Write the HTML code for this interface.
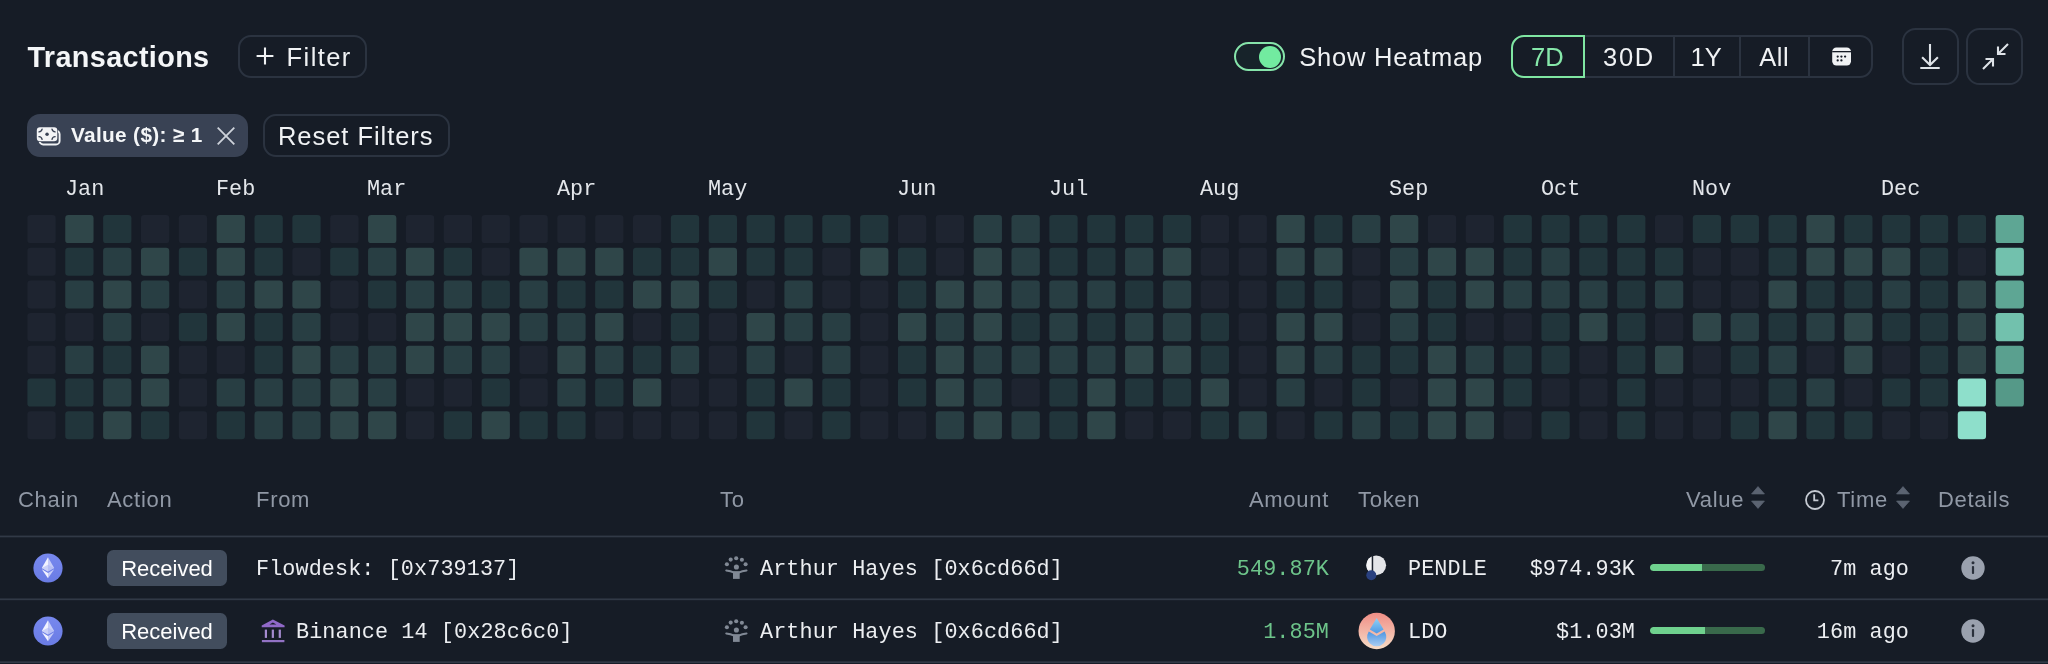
<!DOCTYPE html>
<html><head><meta charset="utf-8">
<style>
*{box-sizing:border-box;margin:0;padding:0}
html,body{width:2048px;height:664px;overflow:hidden;background:#161c26}
body{font-family:"Liberation Sans",sans-serif;color:#fff;position:relative}
.abs{position:absolute;white-space:nowrap}
.mono{font-family:"Liberation Mono",monospace}
.btn{position:absolute;border:2px solid #2b3340;border-radius:13px}
.title{left:27.500px;top:38.200px;font-size:28.800px;font-weight:bold;line-height:38px;color:#f4f6f8;letter-spacing:0.36px}
.hm{position:absolute;left:0;top:205px}
.mon{position:absolute;top:178px;font-size:21.8px;line-height:24px;color:#e3e6ea;font-family:"Liberation Mono",monospace}
.th{position:absolute;top:487.300px;font-size:22px;line-height:26px;color:#9098a5;letter-spacing:0.7px}
.line{position:absolute;left:0;width:2048px;height:1.700px;background:#303845}
.badge{position:absolute;left:107px;width:120px;height:35.600px;border-radius:6.500px;background:#424d5d;color:#fff;font-size:22px;line-height:35.600px;text-align:center}
.cell{position:absolute;font-family:"Liberation Mono",monospace;font-size:21.8px;letter-spacing:0.09px;line-height:28px;color:#eceef1;white-space:nowrap}
.r{text-align:right}
.bar{position:absolute;left:1650px;width:115px;height:7px;border-radius:4px;background:#39694b;overflow:hidden}
.bar i{display:block;height:7px;background:#6fd18e;border-radius:4px 0 0 4px}
#wrap{position:absolute;left:0;top:0;width:2048px;height:664px;will-change:transform;transform:translateZ(0)}
</style></head><body><div id="wrap">

<div class="abs title">Transactions</div>

<div class="btn" style="left:238px;top:35.200px;width:129.200px;height:42.400px"></div>
<svg class="abs" style="left:254.800px;top:46px" width="20" height="20" viewBox="0 0 20 20"><path d="M10 1.600v16.800M1.600 10h16.800" stroke="#f0f2f4" stroke-width="2.100" fill="none"/></svg>
<div class="abs" style="left:286.600px;top:41.800px;font-size:25.5px;line-height:30px;color:#f0f2f4;letter-spacing:1.4px">Filter</div>

<!-- chip -->
<div class="abs" style="left:27px;top:113.800px;width:221px;height:43.400px;border-radius:13px;background:#394254"></div>
<svg class="abs" style="left:36px;top:126px" width="26" height="21" viewBox="0 0 26 21"><rect x="3.600" y="4.700" width="20" height="13.800" rx="3.600" fill="none" stroke="#f0f2f4" stroke-width="1.900"/><rect x="0.200" y="0.700" width="21.700" height="15.200" rx="3.800" fill="#394254"/><rect x="0.800" y="1.300" width="20.500" height="14" rx="3.200" fill="#f3f4f6"/><circle cx="11.050" cy="8.300" r="1.750" fill="#394254"/><g fill="none" stroke="#394254" stroke-width="1.350" stroke-linecap="round"><path d="M3 5.900a3.400 3.400 0 0 0 3.100-2.700"/><path d="M19.100 5.900a3.400 3.400 0 0 1-3.100-2.700"/><path d="M3 10.700a3.400 3.400 0 0 1 3.100 2.700"/><path d="M19.100 10.700a3.400 3.400 0 0 0-3.100 2.700"/></g></svg>
<div class="abs" style="left:70.900px;top:122.200px;font-size:20.8px;font-weight:bold;line-height:26px;letter-spacing:0.35px;color:#f4f6f8">Value ($): ≥ 1</div>
<svg class="abs" style="left:216.300px;top:125.800px" width="20" height="20" viewBox="0 0 20 20"><path d="M1.700 1.700l16.600 16.600M18.300 1.700L1.700 18.300" stroke="#cdd2da" stroke-width="1.800" fill="none"/></svg>

<div class="btn" style="left:263px;top:114px;width:187px;height:43px"></div>
<div class="abs" style="left:278px;top:120.800px;font-size:25.5px;line-height:30px;color:#f0f2f4;letter-spacing:0.95px">Reset Filters</div>

<!-- toggle -->
<div class="abs" style="left:1234.300px;top:42.300px;width:50.700px;height:28.700px;border-radius:15px;border:2px solid #86e4aa;background:#17232a"></div>
<div class="abs" style="left:1259.300px;top:45.800px;width:21.800px;height:21.800px;border-radius:11px;background:#72eba0"></div>
<div class="abs" style="left:1299.200px;top:41.700px;font-size:25.5px;line-height:30px;color:#f0f2f4;letter-spacing:0.78px">Show Heatmap</div>

<!-- segmented -->
<div class="btn" style="left:1511px;top:35.200px;width:361.500px;height:42.400px"></div>
<div class="abs" style="left:1673px;top:36px;width:2px;height:41px;background:#2b3340"></div>
<div class="abs" style="left:1739px;top:36px;width:2px;height:41px;background:#2b3340"></div>
<div class="abs" style="left:1808px;top:36px;width:2px;height:41px;background:#2b3340"></div>
<div class="abs" style="left:1511px;top:35.200px;width:74px;height:42.400px;border:2px solid #7fe6a2;border-radius:13px 0 0 13px"></div>
<div class="abs" style="left:1531px;top:41.600px;font-size:25.5px;line-height:30px;color:#86e8aa">7D</div>
<div class="abs" style="left:1603px;top:41.600px;font-size:25.5px;line-height:30px;color:#f0f2f4;letter-spacing:1.700px">30D</div>
<div class="abs" style="left:1690.600px;top:41.600px;font-size:25.5px;line-height:30px;color:#f0f2f4">1Y</div>
<div class="abs" style="left:1759.300px;top:41.600px;font-size:25.5px;line-height:30px;color:#f0f2f4;letter-spacing:0.5px">All</div>
<svg class="abs" style="left:1831px;top:46px" width="22" height="22" viewBox="0 0 22 22"><rect x="1.200" y="1.500" width="18.800" height="18" rx="4.200" fill="#f0f2f4"/><rect x="1.200" y="5" width="18.800" height="1.300" fill="#161c26"/><g fill="#161c26"><circle cx="6.700" cy="10.600" r="1.150"/><circle cx="10.400" cy="10.600" r="1.150"/><circle cx="14.100" cy="10.600" r="1.150"/><circle cx="6.700" cy="14.400" r="1.150"/><circle cx="10.400" cy="14.400" r="1.150"/></g></svg>

<div class="btn" style="left:1901.700px;top:28.300px;width:57px;height:57px;border-radius:13.500px"></div>
<svg class="abs" style="left:1917.400px;top:43px" width="26" height="30" viewBox="0 0 26 30"><path d="M13 1v21M5.100 14.300L13 22.100l7.900-7.800M3.300 25h19.400" stroke="#dfe3e8" stroke-width="2.1" fill="none"/></svg>
<div class="btn" style="left:1966.300px;top:28.300px;width:57px;height:57px;border-radius:13.500px"></div>
<svg class="abs" style="left:1980.500px;top:42.300px" width="30" height="30" viewBox="0 0 30 30"><path d="M27 2L17 12M17 4.500V12h7.500M2 27l10-10M12 24.500V17H4.500" stroke="#dfe3e8" stroke-width="2.1" fill="none"/></svg>

<!-- months -->
<div class="mon" style="left:65px">Jan</div>
<div class="mon" style="left:216px">Feb</div>
<div class="mon" style="left:367px">Mar</div>
<div class="mon" style="left:557px">Apr</div>
<div class="mon" style="left:708px">May</div>
<div class="mon" style="left:897px">Jun</div>
<div class="mon" style="left:1049px">Jul</div>
<div class="mon" style="left:1200px">Aug</div>
<div class="mon" style="left:1389px">Sep</div>
<div class="mon" style="left:1541px">Oct</div>
<div class="mon" style="left:1692px">Nov</div>
<div class="mon" style="left:1881px">Dec</div>

<svg class="hm" width="2048" height="240" viewBox="0 205 2048 240"><rect x="27.40" y="215.00" width="28.3" height="28.1" rx="3.2" fill="#1e2430"/><rect x="27.40" y="247.70" width="28.3" height="28.1" rx="3.2" fill="#1e2430"/><rect x="27.40" y="280.40" width="28.3" height="28.1" rx="3.2" fill="#1e2430"/><rect x="27.40" y="313.10" width="28.3" height="28.1" rx="3.2" fill="#1e2430"/><rect x="27.40" y="345.80" width="28.3" height="28.1" rx="3.2" fill="#1e2430"/><rect x="27.40" y="378.50" width="28.3" height="28.1" rx="3.2" fill="#21353b"/><rect x="27.40" y="411.20" width="28.3" height="28.1" rx="3.2" fill="#1e2430"/><rect x="65.25" y="215.00" width="28.3" height="28.1" rx="3.2" fill="#2f4649"/><rect x="65.25" y="247.70" width="28.3" height="28.1" rx="3.2" fill="#21353b"/><rect x="65.25" y="280.40" width="28.3" height="28.1" rx="3.2" fill="#283e43"/><rect x="65.25" y="313.10" width="28.3" height="28.1" rx="3.2" fill="#1e2430"/><rect x="65.25" y="345.80" width="28.3" height="28.1" rx="3.2" fill="#283e43"/><rect x="65.25" y="378.50" width="28.3" height="28.1" rx="3.2" fill="#21353b"/><rect x="65.25" y="411.20" width="28.3" height="28.1" rx="3.2" fill="#21353b"/><rect x="103.10" y="215.00" width="28.3" height="28.1" rx="3.2" fill="#21353b"/><rect x="103.10" y="247.70" width="28.3" height="28.1" rx="3.2" fill="#283e43"/><rect x="103.10" y="280.40" width="28.3" height="28.1" rx="3.2" fill="#2f4649"/><rect x="103.10" y="313.10" width="28.3" height="28.1" rx="3.2" fill="#283e43"/><rect x="103.10" y="345.80" width="28.3" height="28.1" rx="3.2" fill="#21353b"/><rect x="103.10" y="378.50" width="28.3" height="28.1" rx="3.2" fill="#283e43"/><rect x="103.10" y="411.20" width="28.3" height="28.1" rx="3.2" fill="#2f4649"/><rect x="140.95" y="215.00" width="28.3" height="28.1" rx="3.2" fill="#1e2430"/><rect x="140.95" y="247.70" width="28.3" height="28.1" rx="3.2" fill="#2f4649"/><rect x="140.95" y="280.40" width="28.3" height="28.1" rx="3.2" fill="#283e43"/><rect x="140.95" y="313.10" width="28.3" height="28.1" rx="3.2" fill="#1e2430"/><rect x="140.95" y="345.80" width="28.3" height="28.1" rx="3.2" fill="#2f4649"/><rect x="140.95" y="378.50" width="28.3" height="28.1" rx="3.2" fill="#2f4649"/><rect x="140.95" y="411.20" width="28.3" height="28.1" rx="3.2" fill="#21353b"/><rect x="178.80" y="215.00" width="28.3" height="28.1" rx="3.2" fill="#1e2430"/><rect x="178.80" y="247.70" width="28.3" height="28.1" rx="3.2" fill="#21353b"/><rect x="178.80" y="280.40" width="28.3" height="28.1" rx="3.2" fill="#1e2430"/><rect x="178.80" y="313.10" width="28.3" height="28.1" rx="3.2" fill="#21353b"/><rect x="178.80" y="345.80" width="28.3" height="28.1" rx="3.2" fill="#1e2430"/><rect x="178.80" y="378.50" width="28.3" height="28.1" rx="3.2" fill="#1e2430"/><rect x="178.80" y="411.20" width="28.3" height="28.1" rx="3.2" fill="#1e2430"/><rect x="216.65" y="215.00" width="28.3" height="28.1" rx="3.2" fill="#2f4649"/><rect x="216.65" y="247.70" width="28.3" height="28.1" rx="3.2" fill="#2f4649"/><rect x="216.65" y="280.40" width="28.3" height="28.1" rx="3.2" fill="#283e43"/><rect x="216.65" y="313.10" width="28.3" height="28.1" rx="3.2" fill="#2f4649"/><rect x="216.65" y="345.80" width="28.3" height="28.1" rx="3.2" fill="#1e2430"/><rect x="216.65" y="378.50" width="28.3" height="28.1" rx="3.2" fill="#283e43"/><rect x="216.65" y="411.20" width="28.3" height="28.1" rx="3.2" fill="#21353b"/><rect x="254.50" y="215.00" width="28.3" height="28.1" rx="3.2" fill="#21353b"/><rect x="254.50" y="247.70" width="28.3" height="28.1" rx="3.2" fill="#21353b"/><rect x="254.50" y="280.40" width="28.3" height="28.1" rx="3.2" fill="#2f4649"/><rect x="254.50" y="313.10" width="28.3" height="28.1" rx="3.2" fill="#21353b"/><rect x="254.50" y="345.80" width="28.3" height="28.1" rx="3.2" fill="#21353b"/><rect x="254.50" y="378.50" width="28.3" height="28.1" rx="3.2" fill="#283e43"/><rect x="254.50" y="411.20" width="28.3" height="28.1" rx="3.2" fill="#283e43"/><rect x="292.35" y="215.00" width="28.3" height="28.1" rx="3.2" fill="#21353b"/><rect x="292.35" y="247.70" width="28.3" height="28.1" rx="3.2" fill="#1e2430"/><rect x="292.35" y="280.40" width="28.3" height="28.1" rx="3.2" fill="#2f4649"/><rect x="292.35" y="313.10" width="28.3" height="28.1" rx="3.2" fill="#283e43"/><rect x="292.35" y="345.80" width="28.3" height="28.1" rx="3.2" fill="#2f4649"/><rect x="292.35" y="378.50" width="28.3" height="28.1" rx="3.2" fill="#283e43"/><rect x="292.35" y="411.20" width="28.3" height="28.1" rx="3.2" fill="#283e43"/><rect x="330.20" y="215.00" width="28.3" height="28.1" rx="3.2" fill="#1e2430"/><rect x="330.20" y="247.70" width="28.3" height="28.1" rx="3.2" fill="#21353b"/><rect x="330.20" y="280.40" width="28.3" height="28.1" rx="3.2" fill="#1e2430"/><rect x="330.20" y="313.10" width="28.3" height="28.1" rx="3.2" fill="#1e2430"/><rect x="330.20" y="345.80" width="28.3" height="28.1" rx="3.2" fill="#283e43"/><rect x="330.20" y="378.50" width="28.3" height="28.1" rx="3.2" fill="#2f4649"/><rect x="330.20" y="411.20" width="28.3" height="28.1" rx="3.2" fill="#2f4649"/><rect x="368.05" y="215.00" width="28.3" height="28.1" rx="3.2" fill="#2f4649"/><rect x="368.05" y="247.70" width="28.3" height="28.1" rx="3.2" fill="#283e43"/><rect x="368.05" y="280.40" width="28.3" height="28.1" rx="3.2" fill="#21353b"/><rect x="368.05" y="313.10" width="28.3" height="28.1" rx="3.2" fill="#1e2430"/><rect x="368.05" y="345.80" width="28.3" height="28.1" rx="3.2" fill="#283e43"/><rect x="368.05" y="378.50" width="28.3" height="28.1" rx="3.2" fill="#283e43"/><rect x="368.05" y="411.20" width="28.3" height="28.1" rx="3.2" fill="#2f4649"/><rect x="405.90" y="215.00" width="28.3" height="28.1" rx="3.2" fill="#1e2430"/><rect x="405.90" y="247.70" width="28.3" height="28.1" rx="3.2" fill="#2f4649"/><rect x="405.90" y="280.40" width="28.3" height="28.1" rx="3.2" fill="#283e43"/><rect x="405.90" y="313.10" width="28.3" height="28.1" rx="3.2" fill="#2f4649"/><rect x="405.90" y="345.80" width="28.3" height="28.1" rx="3.2" fill="#2f4649"/><rect x="405.90" y="378.50" width="28.3" height="28.1" rx="3.2" fill="#1e2430"/><rect x="405.90" y="411.20" width="28.3" height="28.1" rx="3.2" fill="#1e2430"/><rect x="443.75" y="215.00" width="28.3" height="28.1" rx="3.2" fill="#1e2430"/><rect x="443.75" y="247.70" width="28.3" height="28.1" rx="3.2" fill="#21353b"/><rect x="443.75" y="280.40" width="28.3" height="28.1" rx="3.2" fill="#283e43"/><rect x="443.75" y="313.10" width="28.3" height="28.1" rx="3.2" fill="#2f4649"/><rect x="443.75" y="345.80" width="28.3" height="28.1" rx="3.2" fill="#283e43"/><rect x="443.75" y="378.50" width="28.3" height="28.1" rx="3.2" fill="#1e2430"/><rect x="443.75" y="411.20" width="28.3" height="28.1" rx="3.2" fill="#21353b"/><rect x="481.60" y="215.00" width="28.3" height="28.1" rx="3.2" fill="#1e2430"/><rect x="481.60" y="247.70" width="28.3" height="28.1" rx="3.2" fill="#1e2430"/><rect x="481.60" y="280.40" width="28.3" height="28.1" rx="3.2" fill="#21353b"/><rect x="481.60" y="313.10" width="28.3" height="28.1" rx="3.2" fill="#2f4649"/><rect x="481.60" y="345.80" width="28.3" height="28.1" rx="3.2" fill="#283e43"/><rect x="481.60" y="378.50" width="28.3" height="28.1" rx="3.2" fill="#21353b"/><rect x="481.60" y="411.20" width="28.3" height="28.1" rx="3.2" fill="#2f4649"/><rect x="519.45" y="215.00" width="28.3" height="28.1" rx="3.2" fill="#1e2430"/><rect x="519.45" y="247.70" width="28.3" height="28.1" rx="3.2" fill="#2f4649"/><rect x="519.45" y="280.40" width="28.3" height="28.1" rx="3.2" fill="#283e43"/><rect x="519.45" y="313.10" width="28.3" height="28.1" rx="3.2" fill="#283e43"/><rect x="519.45" y="345.80" width="28.3" height="28.1" rx="3.2" fill="#1e2430"/><rect x="519.45" y="378.50" width="28.3" height="28.1" rx="3.2" fill="#1e2430"/><rect x="519.45" y="411.20" width="28.3" height="28.1" rx="3.2" fill="#21353b"/><rect x="557.30" y="215.00" width="28.3" height="28.1" rx="3.2" fill="#1e2430"/><rect x="557.30" y="247.70" width="28.3" height="28.1" rx="3.2" fill="#2f4649"/><rect x="557.30" y="280.40" width="28.3" height="28.1" rx="3.2" fill="#21353b"/><rect x="557.30" y="313.10" width="28.3" height="28.1" rx="3.2" fill="#283e43"/><rect x="557.30" y="345.80" width="28.3" height="28.1" rx="3.2" fill="#2f4649"/><rect x="557.30" y="378.50" width="28.3" height="28.1" rx="3.2" fill="#283e43"/><rect x="557.30" y="411.20" width="28.3" height="28.1" rx="3.2" fill="#21353b"/><rect x="595.15" y="215.00" width="28.3" height="28.1" rx="3.2" fill="#1e2430"/><rect x="595.15" y="247.70" width="28.3" height="28.1" rx="3.2" fill="#2f4649"/><rect x="595.15" y="280.40" width="28.3" height="28.1" rx="3.2" fill="#21353b"/><rect x="595.15" y="313.10" width="28.3" height="28.1" rx="3.2" fill="#2f4649"/><rect x="595.15" y="345.80" width="28.3" height="28.1" rx="3.2" fill="#283e43"/><rect x="595.15" y="378.50" width="28.3" height="28.1" rx="3.2" fill="#21353b"/><rect x="595.15" y="411.20" width="28.3" height="28.1" rx="3.2" fill="#1e2430"/><rect x="633.00" y="215.00" width="28.3" height="28.1" rx="3.2" fill="#1e2430"/><rect x="633.00" y="247.70" width="28.3" height="28.1" rx="3.2" fill="#21353b"/><rect x="633.00" y="280.40" width="28.3" height="28.1" rx="3.2" fill="#2f4649"/><rect x="633.00" y="313.10" width="28.3" height="28.1" rx="3.2" fill="#1e2430"/><rect x="633.00" y="345.80" width="28.3" height="28.1" rx="3.2" fill="#21353b"/><rect x="633.00" y="378.50" width="28.3" height="28.1" rx="3.2" fill="#2f4649"/><rect x="633.00" y="411.20" width="28.3" height="28.1" rx="3.2" fill="#1e2430"/><rect x="670.85" y="215.00" width="28.3" height="28.1" rx="3.2" fill="#21353b"/><rect x="670.85" y="247.70" width="28.3" height="28.1" rx="3.2" fill="#21353b"/><rect x="670.85" y="280.40" width="28.3" height="28.1" rx="3.2" fill="#2f4649"/><rect x="670.85" y="313.10" width="28.3" height="28.1" rx="3.2" fill="#21353b"/><rect x="670.85" y="345.80" width="28.3" height="28.1" rx="3.2" fill="#283e43"/><rect x="670.85" y="378.50" width="28.3" height="28.1" rx="3.2" fill="#1e2430"/><rect x="670.85" y="411.20" width="28.3" height="28.1" rx="3.2" fill="#1e2430"/><rect x="708.70" y="215.00" width="28.3" height="28.1" rx="3.2" fill="#21353b"/><rect x="708.70" y="247.70" width="28.3" height="28.1" rx="3.2" fill="#2f4649"/><rect x="708.70" y="280.40" width="28.3" height="28.1" rx="3.2" fill="#21353b"/><rect x="708.70" y="313.10" width="28.3" height="28.1" rx="3.2" fill="#1e2430"/><rect x="708.70" y="345.80" width="28.3" height="28.1" rx="3.2" fill="#1e2430"/><rect x="708.70" y="378.50" width="28.3" height="28.1" rx="3.2" fill="#1e2430"/><rect x="708.70" y="411.20" width="28.3" height="28.1" rx="3.2" fill="#1e2430"/><rect x="746.55" y="215.00" width="28.3" height="28.1" rx="3.2" fill="#21353b"/><rect x="746.55" y="247.70" width="28.3" height="28.1" rx="3.2" fill="#21353b"/><rect x="746.55" y="280.40" width="28.3" height="28.1" rx="3.2" fill="#1e2430"/><rect x="746.55" y="313.10" width="28.3" height="28.1" rx="3.2" fill="#2f4649"/><rect x="746.55" y="345.80" width="28.3" height="28.1" rx="3.2" fill="#283e43"/><rect x="746.55" y="378.50" width="28.3" height="28.1" rx="3.2" fill="#21353b"/><rect x="746.55" y="411.20" width="28.3" height="28.1" rx="3.2" fill="#21353b"/><rect x="784.40" y="215.00" width="28.3" height="28.1" rx="3.2" fill="#21353b"/><rect x="784.40" y="247.70" width="28.3" height="28.1" rx="3.2" fill="#21353b"/><rect x="784.40" y="280.40" width="28.3" height="28.1" rx="3.2" fill="#283e43"/><rect x="784.40" y="313.10" width="28.3" height="28.1" rx="3.2" fill="#283e43"/><rect x="784.40" y="345.80" width="28.3" height="28.1" rx="3.2" fill="#1e2430"/><rect x="784.40" y="378.50" width="28.3" height="28.1" rx="3.2" fill="#2f4649"/><rect x="784.40" y="411.20" width="28.3" height="28.1" rx="3.2" fill="#1e2430"/><rect x="822.25" y="215.00" width="28.3" height="28.1" rx="3.2" fill="#21353b"/><rect x="822.25" y="247.70" width="28.3" height="28.1" rx="3.2" fill="#1e2430"/><rect x="822.25" y="280.40" width="28.3" height="28.1" rx="3.2" fill="#1e2430"/><rect x="822.25" y="313.10" width="28.3" height="28.1" rx="3.2" fill="#283e43"/><rect x="822.25" y="345.80" width="28.3" height="28.1" rx="3.2" fill="#283e43"/><rect x="822.25" y="378.50" width="28.3" height="28.1" rx="3.2" fill="#21353b"/><rect x="822.25" y="411.20" width="28.3" height="28.1" rx="3.2" fill="#21353b"/><rect x="860.10" y="215.00" width="28.3" height="28.1" rx="3.2" fill="#21353b"/><rect x="860.10" y="247.70" width="28.3" height="28.1" rx="3.2" fill="#2f4649"/><rect x="860.10" y="280.40" width="28.3" height="28.1" rx="3.2" fill="#1e2430"/><rect x="860.10" y="313.10" width="28.3" height="28.1" rx="3.2" fill="#1e2430"/><rect x="860.10" y="345.80" width="28.3" height="28.1" rx="3.2" fill="#1e2430"/><rect x="860.10" y="378.50" width="28.3" height="28.1" rx="3.2" fill="#1e2430"/><rect x="860.10" y="411.20" width="28.3" height="28.1" rx="3.2" fill="#1e2430"/><rect x="897.95" y="215.00" width="28.3" height="28.1" rx="3.2" fill="#1e2430"/><rect x="897.95" y="247.70" width="28.3" height="28.1" rx="3.2" fill="#21353b"/><rect x="897.95" y="280.40" width="28.3" height="28.1" rx="3.2" fill="#21353b"/><rect x="897.95" y="313.10" width="28.3" height="28.1" rx="3.2" fill="#2f4649"/><rect x="897.95" y="345.80" width="28.3" height="28.1" rx="3.2" fill="#21353b"/><rect x="897.95" y="378.50" width="28.3" height="28.1" rx="3.2" fill="#21353b"/><rect x="897.95" y="411.20" width="28.3" height="28.1" rx="3.2" fill="#1e2430"/><rect x="935.80" y="215.00" width="28.3" height="28.1" rx="3.2" fill="#1e2430"/><rect x="935.80" y="247.70" width="28.3" height="28.1" rx="3.2" fill="#1e2430"/><rect x="935.80" y="280.40" width="28.3" height="28.1" rx="3.2" fill="#2f4649"/><rect x="935.80" y="313.10" width="28.3" height="28.1" rx="3.2" fill="#283e43"/><rect x="935.80" y="345.80" width="28.3" height="28.1" rx="3.2" fill="#2f4649"/><rect x="935.80" y="378.50" width="28.3" height="28.1" rx="3.2" fill="#2f4649"/><rect x="935.80" y="411.20" width="28.3" height="28.1" rx="3.2" fill="#283e43"/><rect x="973.65" y="215.00" width="28.3" height="28.1" rx="3.2" fill="#283e43"/><rect x="973.65" y="247.70" width="28.3" height="28.1" rx="3.2" fill="#2f4649"/><rect x="973.65" y="280.40" width="28.3" height="28.1" rx="3.2" fill="#2f4649"/><rect x="973.65" y="313.10" width="28.3" height="28.1" rx="3.2" fill="#2f4649"/><rect x="973.65" y="345.80" width="28.3" height="28.1" rx="3.2" fill="#283e43"/><rect x="973.65" y="378.50" width="28.3" height="28.1" rx="3.2" fill="#283e43"/><rect x="973.65" y="411.20" width="28.3" height="28.1" rx="3.2" fill="#2f4649"/><rect x="1011.50" y="215.00" width="28.3" height="28.1" rx="3.2" fill="#283e43"/><rect x="1011.50" y="247.70" width="28.3" height="28.1" rx="3.2" fill="#283e43"/><rect x="1011.50" y="280.40" width="28.3" height="28.1" rx="3.2" fill="#283e43"/><rect x="1011.50" y="313.10" width="28.3" height="28.1" rx="3.2" fill="#21353b"/><rect x="1011.50" y="345.80" width="28.3" height="28.1" rx="3.2" fill="#283e43"/><rect x="1011.50" y="378.50" width="28.3" height="28.1" rx="3.2" fill="#1e2430"/><rect x="1011.50" y="411.20" width="28.3" height="28.1" rx="3.2" fill="#283e43"/><rect x="1049.35" y="215.00" width="28.3" height="28.1" rx="3.2" fill="#21353b"/><rect x="1049.35" y="247.70" width="28.3" height="28.1" rx="3.2" fill="#21353b"/><rect x="1049.35" y="280.40" width="28.3" height="28.1" rx="3.2" fill="#283e43"/><rect x="1049.35" y="313.10" width="28.3" height="28.1" rx="3.2" fill="#283e43"/><rect x="1049.35" y="345.80" width="28.3" height="28.1" rx="3.2" fill="#283e43"/><rect x="1049.35" y="378.50" width="28.3" height="28.1" rx="3.2" fill="#21353b"/><rect x="1049.35" y="411.20" width="28.3" height="28.1" rx="3.2" fill="#21353b"/><rect x="1087.20" y="215.00" width="28.3" height="28.1" rx="3.2" fill="#21353b"/><rect x="1087.20" y="247.70" width="28.3" height="28.1" rx="3.2" fill="#21353b"/><rect x="1087.20" y="280.40" width="28.3" height="28.1" rx="3.2" fill="#283e43"/><rect x="1087.20" y="313.10" width="28.3" height="28.1" rx="3.2" fill="#21353b"/><rect x="1087.20" y="345.80" width="28.3" height="28.1" rx="3.2" fill="#283e43"/><rect x="1087.20" y="378.50" width="28.3" height="28.1" rx="3.2" fill="#2f4649"/><rect x="1087.20" y="411.20" width="28.3" height="28.1" rx="3.2" fill="#2f4649"/><rect x="1125.05" y="215.00" width="28.3" height="28.1" rx="3.2" fill="#21353b"/><rect x="1125.05" y="247.70" width="28.3" height="28.1" rx="3.2" fill="#283e43"/><rect x="1125.05" y="280.40" width="28.3" height="28.1" rx="3.2" fill="#21353b"/><rect x="1125.05" y="313.10" width="28.3" height="28.1" rx="3.2" fill="#283e43"/><rect x="1125.05" y="345.80" width="28.3" height="28.1" rx="3.2" fill="#2f4649"/><rect x="1125.05" y="378.50" width="28.3" height="28.1" rx="3.2" fill="#21353b"/><rect x="1125.05" y="411.20" width="28.3" height="28.1" rx="3.2" fill="#1e2430"/><rect x="1162.90" y="215.00" width="28.3" height="28.1" rx="3.2" fill="#21353b"/><rect x="1162.90" y="247.70" width="28.3" height="28.1" rx="3.2" fill="#2f4649"/><rect x="1162.90" y="280.40" width="28.3" height="28.1" rx="3.2" fill="#283e43"/><rect x="1162.90" y="313.10" width="28.3" height="28.1" rx="3.2" fill="#283e43"/><rect x="1162.90" y="345.80" width="28.3" height="28.1" rx="3.2" fill="#2f4649"/><rect x="1162.90" y="378.50" width="28.3" height="28.1" rx="3.2" fill="#21353b"/><rect x="1162.90" y="411.20" width="28.3" height="28.1" rx="3.2" fill="#1e2430"/><rect x="1200.75" y="215.00" width="28.3" height="28.1" rx="3.2" fill="#1e2430"/><rect x="1200.75" y="247.70" width="28.3" height="28.1" rx="3.2" fill="#1e2430"/><rect x="1200.75" y="280.40" width="28.3" height="28.1" rx="3.2" fill="#1e2430"/><rect x="1200.75" y="313.10" width="28.3" height="28.1" rx="3.2" fill="#21353b"/><rect x="1200.75" y="345.80" width="28.3" height="28.1" rx="3.2" fill="#21353b"/><rect x="1200.75" y="378.50" width="28.3" height="28.1" rx="3.2" fill="#2f4649"/><rect x="1200.75" y="411.20" width="28.3" height="28.1" rx="3.2" fill="#21353b"/><rect x="1238.60" y="215.00" width="28.3" height="28.1" rx="3.2" fill="#1e2430"/><rect x="1238.60" y="247.70" width="28.3" height="28.1" rx="3.2" fill="#1e2430"/><rect x="1238.60" y="280.40" width="28.3" height="28.1" rx="3.2" fill="#1e2430"/><rect x="1238.60" y="313.10" width="28.3" height="28.1" rx="3.2" fill="#1e2430"/><rect x="1238.60" y="345.80" width="28.3" height="28.1" rx="3.2" fill="#1e2430"/><rect x="1238.60" y="378.50" width="28.3" height="28.1" rx="3.2" fill="#1e2430"/><rect x="1238.60" y="411.20" width="28.3" height="28.1" rx="3.2" fill="#283e43"/><rect x="1276.45" y="215.00" width="28.3" height="28.1" rx="3.2" fill="#2f4649"/><rect x="1276.45" y="247.70" width="28.3" height="28.1" rx="3.2" fill="#2f4649"/><rect x="1276.45" y="280.40" width="28.3" height="28.1" rx="3.2" fill="#21353b"/><rect x="1276.45" y="313.10" width="28.3" height="28.1" rx="3.2" fill="#2f4649"/><rect x="1276.45" y="345.80" width="28.3" height="28.1" rx="3.2" fill="#2f4649"/><rect x="1276.45" y="378.50" width="28.3" height="28.1" rx="3.2" fill="#283e43"/><rect x="1276.45" y="411.20" width="28.3" height="28.1" rx="3.2" fill="#1e2430"/><rect x="1314.30" y="215.00" width="28.3" height="28.1" rx="3.2" fill="#21353b"/><rect x="1314.30" y="247.70" width="28.3" height="28.1" rx="3.2" fill="#2f4649"/><rect x="1314.30" y="280.40" width="28.3" height="28.1" rx="3.2" fill="#21353b"/><rect x="1314.30" y="313.10" width="28.3" height="28.1" rx="3.2" fill="#2f4649"/><rect x="1314.30" y="345.80" width="28.3" height="28.1" rx="3.2" fill="#283e43"/><rect x="1314.30" y="378.50" width="28.3" height="28.1" rx="3.2" fill="#1e2430"/><rect x="1314.30" y="411.20" width="28.3" height="28.1" rx="3.2" fill="#21353b"/><rect x="1352.15" y="215.00" width="28.3" height="28.1" rx="3.2" fill="#283e43"/><rect x="1352.15" y="247.70" width="28.3" height="28.1" rx="3.2" fill="#1e2430"/><rect x="1352.15" y="280.40" width="28.3" height="28.1" rx="3.2" fill="#1e2430"/><rect x="1352.15" y="313.10" width="28.3" height="28.1" rx="3.2" fill="#1e2430"/><rect x="1352.15" y="345.80" width="28.3" height="28.1" rx="3.2" fill="#21353b"/><rect x="1352.15" y="378.50" width="28.3" height="28.1" rx="3.2" fill="#21353b"/><rect x="1352.15" y="411.20" width="28.3" height="28.1" rx="3.2" fill="#283e43"/><rect x="1390.00" y="215.00" width="28.3" height="28.1" rx="3.2" fill="#2f4649"/><rect x="1390.00" y="247.70" width="28.3" height="28.1" rx="3.2" fill="#283e43"/><rect x="1390.00" y="280.40" width="28.3" height="28.1" rx="3.2" fill="#2f4649"/><rect x="1390.00" y="313.10" width="28.3" height="28.1" rx="3.2" fill="#283e43"/><rect x="1390.00" y="345.80" width="28.3" height="28.1" rx="3.2" fill="#21353b"/><rect x="1390.00" y="378.50" width="28.3" height="28.1" rx="3.2" fill="#1e2430"/><rect x="1390.00" y="411.20" width="28.3" height="28.1" rx="3.2" fill="#21353b"/><rect x="1427.85" y="215.00" width="28.3" height="28.1" rx="3.2" fill="#1e2430"/><rect x="1427.85" y="247.70" width="28.3" height="28.1" rx="3.2" fill="#2f4649"/><rect x="1427.85" y="280.40" width="28.3" height="28.1" rx="3.2" fill="#21353b"/><rect x="1427.85" y="313.10" width="28.3" height="28.1" rx="3.2" fill="#21353b"/><rect x="1427.85" y="345.80" width="28.3" height="28.1" rx="3.2" fill="#2f4649"/><rect x="1427.85" y="378.50" width="28.3" height="28.1" rx="3.2" fill="#2f4649"/><rect x="1427.85" y="411.20" width="28.3" height="28.1" rx="3.2" fill="#2f4649"/><rect x="1465.70" y="215.00" width="28.3" height="28.1" rx="3.2" fill="#1e2430"/><rect x="1465.70" y="247.70" width="28.3" height="28.1" rx="3.2" fill="#2f4649"/><rect x="1465.70" y="280.40" width="28.3" height="28.1" rx="3.2" fill="#2f4649"/><rect x="1465.70" y="313.10" width="28.3" height="28.1" rx="3.2" fill="#1e2430"/><rect x="1465.70" y="345.80" width="28.3" height="28.1" rx="3.2" fill="#283e43"/><rect x="1465.70" y="378.50" width="28.3" height="28.1" rx="3.2" fill="#2f4649"/><rect x="1465.70" y="411.20" width="28.3" height="28.1" rx="3.2" fill="#2f4649"/><rect x="1503.55" y="215.00" width="28.3" height="28.1" rx="3.2" fill="#21353b"/><rect x="1503.55" y="247.70" width="28.3" height="28.1" rx="3.2" fill="#21353b"/><rect x="1503.55" y="280.40" width="28.3" height="28.1" rx="3.2" fill="#283e43"/><rect x="1503.55" y="313.10" width="28.3" height="28.1" rx="3.2" fill="#1e2430"/><rect x="1503.55" y="345.80" width="28.3" height="28.1" rx="3.2" fill="#21353b"/><rect x="1503.55" y="378.50" width="28.3" height="28.1" rx="3.2" fill="#21353b"/><rect x="1503.55" y="411.20" width="28.3" height="28.1" rx="3.2" fill="#1e2430"/><rect x="1541.40" y="215.00" width="28.3" height="28.1" rx="3.2" fill="#21353b"/><rect x="1541.40" y="247.70" width="28.3" height="28.1" rx="3.2" fill="#283e43"/><rect x="1541.40" y="280.40" width="28.3" height="28.1" rx="3.2" fill="#283e43"/><rect x="1541.40" y="313.10" width="28.3" height="28.1" rx="3.2" fill="#21353b"/><rect x="1541.40" y="345.80" width="28.3" height="28.1" rx="3.2" fill="#21353b"/><rect x="1541.40" y="378.50" width="28.3" height="28.1" rx="3.2" fill="#1e2430"/><rect x="1541.40" y="411.20" width="28.3" height="28.1" rx="3.2" fill="#21353b"/><rect x="1579.25" y="215.00" width="28.3" height="28.1" rx="3.2" fill="#21353b"/><rect x="1579.25" y="247.70" width="28.3" height="28.1" rx="3.2" fill="#21353b"/><rect x="1579.25" y="280.40" width="28.3" height="28.1" rx="3.2" fill="#283e43"/><rect x="1579.25" y="313.10" width="28.3" height="28.1" rx="3.2" fill="#2f4649"/><rect x="1579.25" y="345.80" width="28.3" height="28.1" rx="3.2" fill="#1e2430"/><rect x="1579.25" y="378.50" width="28.3" height="28.1" rx="3.2" fill="#1e2430"/><rect x="1579.25" y="411.20" width="28.3" height="28.1" rx="3.2" fill="#1e2430"/><rect x="1617.10" y="215.00" width="28.3" height="28.1" rx="3.2" fill="#21353b"/><rect x="1617.10" y="247.70" width="28.3" height="28.1" rx="3.2" fill="#21353b"/><rect x="1617.10" y="280.40" width="28.3" height="28.1" rx="3.2" fill="#21353b"/><rect x="1617.10" y="313.10" width="28.3" height="28.1" rx="3.2" fill="#21353b"/><rect x="1617.10" y="345.80" width="28.3" height="28.1" rx="3.2" fill="#21353b"/><rect x="1617.10" y="378.50" width="28.3" height="28.1" rx="3.2" fill="#21353b"/><rect x="1617.10" y="411.20" width="28.3" height="28.1" rx="3.2" fill="#21353b"/><rect x="1654.95" y="215.00" width="28.3" height="28.1" rx="3.2" fill="#1e2430"/><rect x="1654.95" y="247.70" width="28.3" height="28.1" rx="3.2" fill="#21353b"/><rect x="1654.95" y="280.40" width="28.3" height="28.1" rx="3.2" fill="#283e43"/><rect x="1654.95" y="313.10" width="28.3" height="28.1" rx="3.2" fill="#1e2430"/><rect x="1654.95" y="345.80" width="28.3" height="28.1" rx="3.2" fill="#2f4649"/><rect x="1654.95" y="378.50" width="28.3" height="28.1" rx="3.2" fill="#1e2430"/><rect x="1654.95" y="411.20" width="28.3" height="28.1" rx="3.2" fill="#1e2430"/><rect x="1692.80" y="215.00" width="28.3" height="28.1" rx="3.2" fill="#21353b"/><rect x="1692.80" y="247.70" width="28.3" height="28.1" rx="3.2" fill="#1e2430"/><rect x="1692.80" y="280.40" width="28.3" height="28.1" rx="3.2" fill="#1e2430"/><rect x="1692.80" y="313.10" width="28.3" height="28.1" rx="3.2" fill="#2f4649"/><rect x="1692.80" y="345.80" width="28.3" height="28.1" rx="3.2" fill="#1e2430"/><rect x="1692.80" y="378.50" width="28.3" height="28.1" rx="3.2" fill="#1e2430"/><rect x="1692.80" y="411.20" width="28.3" height="28.1" rx="3.2" fill="#1e2430"/><rect x="1730.65" y="215.00" width="28.3" height="28.1" rx="3.2" fill="#21353b"/><rect x="1730.65" y="247.70" width="28.3" height="28.1" rx="3.2" fill="#1e2430"/><rect x="1730.65" y="280.40" width="28.3" height="28.1" rx="3.2" fill="#1e2430"/><rect x="1730.65" y="313.10" width="28.3" height="28.1" rx="3.2" fill="#283e43"/><rect x="1730.65" y="345.80" width="28.3" height="28.1" rx="3.2" fill="#21353b"/><rect x="1730.65" y="378.50" width="28.3" height="28.1" rx="3.2" fill="#1e2430"/><rect x="1730.65" y="411.20" width="28.3" height="28.1" rx="3.2" fill="#21353b"/><rect x="1768.50" y="215.00" width="28.3" height="28.1" rx="3.2" fill="#21353b"/><rect x="1768.50" y="247.70" width="28.3" height="28.1" rx="3.2" fill="#21353b"/><rect x="1768.50" y="280.40" width="28.3" height="28.1" rx="3.2" fill="#2f4649"/><rect x="1768.50" y="313.10" width="28.3" height="28.1" rx="3.2" fill="#21353b"/><rect x="1768.50" y="345.80" width="28.3" height="28.1" rx="3.2" fill="#283e43"/><rect x="1768.50" y="378.50" width="28.3" height="28.1" rx="3.2" fill="#21353b"/><rect x="1768.50" y="411.20" width="28.3" height="28.1" rx="3.2" fill="#2f4649"/><rect x="1806.35" y="215.00" width="28.3" height="28.1" rx="3.2" fill="#2f4649"/><rect x="1806.35" y="247.70" width="28.3" height="28.1" rx="3.2" fill="#2f4649"/><rect x="1806.35" y="280.40" width="28.3" height="28.1" rx="3.2" fill="#21353b"/><rect x="1806.35" y="313.10" width="28.3" height="28.1" rx="3.2" fill="#283e43"/><rect x="1806.35" y="345.80" width="28.3" height="28.1" rx="3.2" fill="#1e2430"/><rect x="1806.35" y="378.50" width="28.3" height="28.1" rx="3.2" fill="#283e43"/><rect x="1806.35" y="411.20" width="28.3" height="28.1" rx="3.2" fill="#21353b"/><rect x="1844.20" y="215.00" width="28.3" height="28.1" rx="3.2" fill="#21353b"/><rect x="1844.20" y="247.70" width="28.3" height="28.1" rx="3.2" fill="#2f4649"/><rect x="1844.20" y="280.40" width="28.3" height="28.1" rx="3.2" fill="#21353b"/><rect x="1844.20" y="313.10" width="28.3" height="28.1" rx="3.2" fill="#2f4649"/><rect x="1844.20" y="345.80" width="28.3" height="28.1" rx="3.2" fill="#2f4649"/><rect x="1844.20" y="378.50" width="28.3" height="28.1" rx="3.2" fill="#1e2430"/><rect x="1844.20" y="411.20" width="28.3" height="28.1" rx="3.2" fill="#21353b"/><rect x="1882.05" y="215.00" width="28.3" height="28.1" rx="3.2" fill="#21353b"/><rect x="1882.05" y="247.70" width="28.3" height="28.1" rx="3.2" fill="#2f4649"/><rect x="1882.05" y="280.40" width="28.3" height="28.1" rx="3.2" fill="#283e43"/><rect x="1882.05" y="313.10" width="28.3" height="28.1" rx="3.2" fill="#21353b"/><rect x="1882.05" y="345.80" width="28.3" height="28.1" rx="3.2" fill="#1e2430"/><rect x="1882.05" y="378.50" width="28.3" height="28.1" rx="3.2" fill="#21353b"/><rect x="1882.05" y="411.20" width="28.3" height="28.1" rx="3.2" fill="#1e2430"/><rect x="1919.90" y="215.00" width="28.3" height="28.1" rx="3.2" fill="#21353b"/><rect x="1919.90" y="247.70" width="28.3" height="28.1" rx="3.2" fill="#21353b"/><rect x="1919.90" y="280.40" width="28.3" height="28.1" rx="3.2" fill="#21353b"/><rect x="1919.90" y="313.10" width="28.3" height="28.1" rx="3.2" fill="#21353b"/><rect x="1919.90" y="345.80" width="28.3" height="28.1" rx="3.2" fill="#21353b"/><rect x="1919.90" y="378.50" width="28.3" height="28.1" rx="3.2" fill="#21353b"/><rect x="1919.90" y="411.20" width="28.3" height="28.1" rx="3.2" fill="#1e2430"/><rect x="1957.75" y="215.00" width="28.3" height="28.1" rx="3.2" fill="#21353b"/><rect x="1957.75" y="247.70" width="28.3" height="28.1" rx="3.2" fill="#1e2430"/><rect x="1957.75" y="280.40" width="28.3" height="28.1" rx="3.2" fill="#2f4649"/><rect x="1957.75" y="313.10" width="28.3" height="28.1" rx="3.2" fill="#2f4649"/><rect x="1957.75" y="345.80" width="28.3" height="28.1" rx="3.2" fill="#2f4649"/><rect x="1957.75" y="378.50" width="28.3" height="28.1" rx="3.2" fill="#8edfcb"/><rect x="1957.75" y="411.20" width="28.3" height="28.1" rx="3.2" fill="#8edfcb"/><rect x="1995.60" y="215.00" width="28.3" height="28.1" rx="3.2" fill="#5ea694"/><rect x="1995.60" y="247.70" width="28.3" height="28.1" rx="3.2" fill="#72c1ad"/><rect x="1995.60" y="280.40" width="28.3" height="28.1" rx="3.2" fill="#5ea694"/><rect x="1995.60" y="313.10" width="28.3" height="28.1" rx="3.2" fill="#72c1ad"/><rect x="1995.60" y="345.80" width="28.3" height="28.1" rx="3.2" fill="#5aa08f"/><rect x="1995.60" y="378.50" width="28.3" height="28.1" rx="3.2" fill="#559988"/></svg>

<!-- table header -->
<div class="th" style="left:18px">Chain</div>
<div class="th" style="left:107px">Action</div>
<div class="th" style="left:256px">From</div>
<div class="th" style="left:720px">To</div>
<div class="th r" style="left:1129px;width:200px">Amount</div>
<div class="th" style="left:1358px">Token</div>
<div class="th" style="left:1686px">Value</div>
<svg class="abs" style="left:1751px;top:486.300px" width="14" height="24" viewBox="0 0 14 24"><path d="M7 0.600L13.400 7.900H0.600zM7 22.400L13.400 15.100H0.600z" fill="#5b6371" stroke="#5b6371" stroke-width="0.800" stroke-linejoin="round"/></svg>
<svg class="abs" style="left:1804.350px;top:488.750px" width="22" height="22" viewBox="0 0 22 22"><circle cx="11" cy="11" r="9" fill="none" stroke="#c5cad2" stroke-width="1.800"/><path d="M10.200 5.200V11.300H14.400" fill="none" stroke="#c5cad2" stroke-width="1.800"/></svg>
<div class="th" style="left:1837px">Time</div>
<svg class="abs" style="left:1896.400px;top:486.300px" width="14" height="24" viewBox="0 0 14 24"><path d="M7 0.600L13.400 7.900H0.600zM7 22.400L13.400 15.100H0.600z" fill="#5b6371" stroke="#5b6371" stroke-width="0.800" stroke-linejoin="round"/></svg>
<div class="th" style="left:1938px">Details</div>

<div class="abs" style="left:0;top:535px;width:2048px;height:3px;background:linear-gradient(to bottom,#212833 0,#212833 33.33%,#313946 33.33%,#313946 66.66%,#1e2530 66.66%,#1e2530 100%)"></div>
<div class="abs" style="left:0;top:598px;width:2048px;height:3px;background:linear-gradient(to bottom,#252c38 0,#252c38 33.33%,#313946 33.33%,#313946 66.66%,#1a202b 66.66%,#1a202b 100%)"></div>
<div class="abs" style="left:0;top:661px;width:2048px;height:3px;background:linear-gradient(to bottom,#282f3b 0,#282f3b 33.33%,#313946 33.33%,#313946 66.66%,#171d28 66.66%,#171d28 100%)"></div>

<!-- row 1 -->
<svg class="abs" style="left:32.700px;top:552.7px" width="30" height="30" viewBox="0 0 30 30"><defs><linearGradient id="eg" x1="0" y1="0" x2="0" y2="1"><stop offset="0" stop-color="#7788ee"/><stop offset="1" stop-color="#6a7ce4"/></linearGradient></defs><circle cx="15" cy="15" r="14.600" fill="url(#eg)"/><path d="M15 4.300L8.800 14.900 15 18.500z" fill="#f2f3ff"/><path d="M15 4.300V18.500L21.200 14.900z" fill="#c6ccf8"/><path d="M15 11.800L8.800 14.900 15 18.500 21.200 14.900z" fill="#aab3f3" opacity=".55"/><path d="M8.800 16.300L15 25.200V20z" fill="#f2f3ff"/><path d="M15 25.200V20L21.200 16.300z" fill="#c6ccf8"/></svg>
<div class="badge" style="top:550.100px"><span style="position:relative;top:0.5px">Received</span></div>
<div class="cell" style="left:256px;top:556.400px">Flowdesk: [0x739137]</div>
<svg class="abs ppl" style="left:715px;top:545px" width="45" height="45" viewBox="0 0 45 45"><g fill="#818995"><circle cx="11.900" cy="19.300" r="2.050"/><circle cx="15.700" cy="14.600" r="2.050"/><circle cx="21.200" cy="13.200" r="2.050"/><circle cx="26.900" cy="14.800" r="2.050"/><circle cx="30.600" cy="19.300" r="2.050"/><circle cx="21.400" cy="22" r="2.550"/><rect x="18" y="26.600" width="6.700" height="7.300"/></g><path d="M11.300 25.500Q16 26.200 18.500 27.400h5.800Q26.800 26.200 31.500 25.500" fill="none" stroke="#818995" stroke-width="2.100" stroke-linecap="round"/></svg>
<div class="cell" style="left:760px;top:556.400px">Arthur Hayes [0x6cd66d]</div>
<div class="cell r" style="left:1129px;width:200px;top:556.400px;color:#6dc48a">549.87K</div>
<svg class="abs" style="left:1356px;top:548px" width="40" height="40" viewBox="0 0 40 40"><circle cx="20.200" cy="17.300" r="9.900" fill="#e4e5e9"/><path d="M16.400 8.200a9.900 9.900 0 0 0-5.900 8.500a9.900 9.900 0 0 0 .8 4.800h5.100z" fill="#f6f6f8"/><rect x="15.700" y="7.500" width="1.500" height="16.500" fill="#1b212c"/><circle cx="15.300" cy="27.300" r="5" fill="#29407f"/></svg>
<div class="cell" style="left:1408px;top:556.400px">PENDLE</div>
<div class="cell r" style="left:1435px;width:200px;top:556.400px">$974.93K</div>
<div class="bar" style="top:564px"><i style="width:52px"></i></div>
<div class="cell r" style="left:1709px;width:200px;top:556.400px">7m ago</div>
<svg class="abs" style="left:1961.300px;top:555.700px" width="24" height="24" viewBox="0 0 24 24"><circle cx="12" cy="12" r="11.700" fill="#9aa1ae"/><circle cx="12" cy="6.800" r="1.500" fill="#2a303b"/><rect x="10.900" y="10" width="2.200" height="8" rx="1" fill="#2a303b"/></svg>

<!-- row 2 -->
<svg class="abs" style="left:32.700px;top:615.5px" width="30" height="30" viewBox="0 0 30 30"><circle cx="15" cy="15" r="14.600" fill="url(#eg)"/><path d="M15 4.300L8.800 14.900 15 18.500z" fill="#f2f3ff"/><path d="M15 4.300V18.500L21.200 14.900z" fill="#c6ccf8"/><path d="M15 11.800L8.800 14.900 15 18.500 21.200 14.900z" fill="#aab3f3" opacity=".55"/><path d="M8.800 16.300L15 25.200V20z" fill="#f2f3ff"/><path d="M15 25.200V20L21.200 16.300z" fill="#c6ccf8"/></svg>
<div class="badge" style="top:613.200px"><span style="position:relative;top:0.5px">Received</span></div>
<svg class="abs" style="left:250px;top:608px" width="45" height="45" viewBox="0 0 45 45"><path d="M22.900 11.500L11.700 17.600v1.600h22.900v-1.600zM22.900 14.500l3.500 2.100h-7z" fill="#9069c8" fill-rule="evenodd"/><g fill="#a58bd0"><rect x="14.800" y="21.600" width="2.200" height="8.300"/><rect x="21.750" y="21.600" width="2.200" height="8.300"/><rect x="28.700" y="21.600" width="2.200" height="8.300"/></g><rect x="11.900" y="32" width="22.500" height="2.200" fill="#9272c4"/></svg>
<div class="cell" style="left:296px;top:618.900px">Binance 14 [0x28c6c0]</div>
<svg class="abs ppl" style="left:715px;top:607.85px" width="45" height="45" viewBox="0 0 45 45"><g fill="#818995"><circle cx="11.900" cy="19.300" r="2.050"/><circle cx="15.700" cy="14.600" r="2.050"/><circle cx="21.200" cy="13.200" r="2.050"/><circle cx="26.900" cy="14.800" r="2.050"/><circle cx="30.600" cy="19.300" r="2.050"/><circle cx="21.400" cy="22" r="2.550"/><rect x="18" y="26.600" width="6.700" height="7.300"/></g><path d="M11.300 25.500Q16 26.200 18.500 27.400h5.800Q26.800 26.200 31.500 25.500" fill="none" stroke="#818995" stroke-width="2.100" stroke-linecap="round"/></svg>
<div class="cell" style="left:760px;top:618.900px">Arthur Hayes [0x6cd66d]</div>
<div class="cell r" style="left:1129px;width:200px;top:618.900px;color:#6dc48a">1.85M</div>
<svg class="abs" style="left:1356.500px;top:610.500px" width="40" height="40" viewBox="0 0 40 40"><defs><linearGradient id="lg" x1="0" y1="0" x2="0" y2="1"><stop offset="0" stop-color="#ef8e86"/><stop offset="1" stop-color="#f6dcc6"/></linearGradient><linearGradient id="lb" x1="0" y1="0" x2="0" y2="1"><stop offset="0" stop-color="#8fd3f7"/><stop offset="1" stop-color="#4f97e3"/></linearGradient><linearGradient id="lc" x1="0" y1="0" x2="0" y2="1"><stop offset="0" stop-color="#4d95e2"/><stop offset="1" stop-color="#a9cdf2"/></linearGradient></defs><circle cx="19.700" cy="20" r="18.200" fill="url(#lg)"/><path d="M19.700 7L26.600 18.600 19.700 22.600 12.800 18.600z" fill="url(#lb)"/><path d="M19.700 25.100L11.800 20.500l-.3.400a9.400 9.400 0 0 0 1.400 11.600a9.600 9.600 0 0 0 13.600 0a9.400 9.400 0 0 0 1.400-11.600l-.3-.4z" fill="url(#lc)"/></svg>
<div class="cell" style="left:1408px;top:618.900px">LDO</div>
<div class="cell r" style="left:1435px;width:200px;top:618.900px">$1.03M</div>
<div class="bar" style="top:627px"><i style="width:55px"></i></div>
<div class="cell r" style="left:1709px;width:200px;top:618.900px">16m ago</div>
<svg class="abs" style="left:1961.300px;top:618.500px" width="24" height="24" viewBox="0 0 24 24"><circle cx="12" cy="12" r="11.700" fill="#9aa1ae"/><circle cx="12" cy="6.800" r="1.500" fill="#2a303b"/><rect x="10.900" y="10" width="2.200" height="8" rx="1" fill="#2a303b"/></svg>

</div></body></html>
